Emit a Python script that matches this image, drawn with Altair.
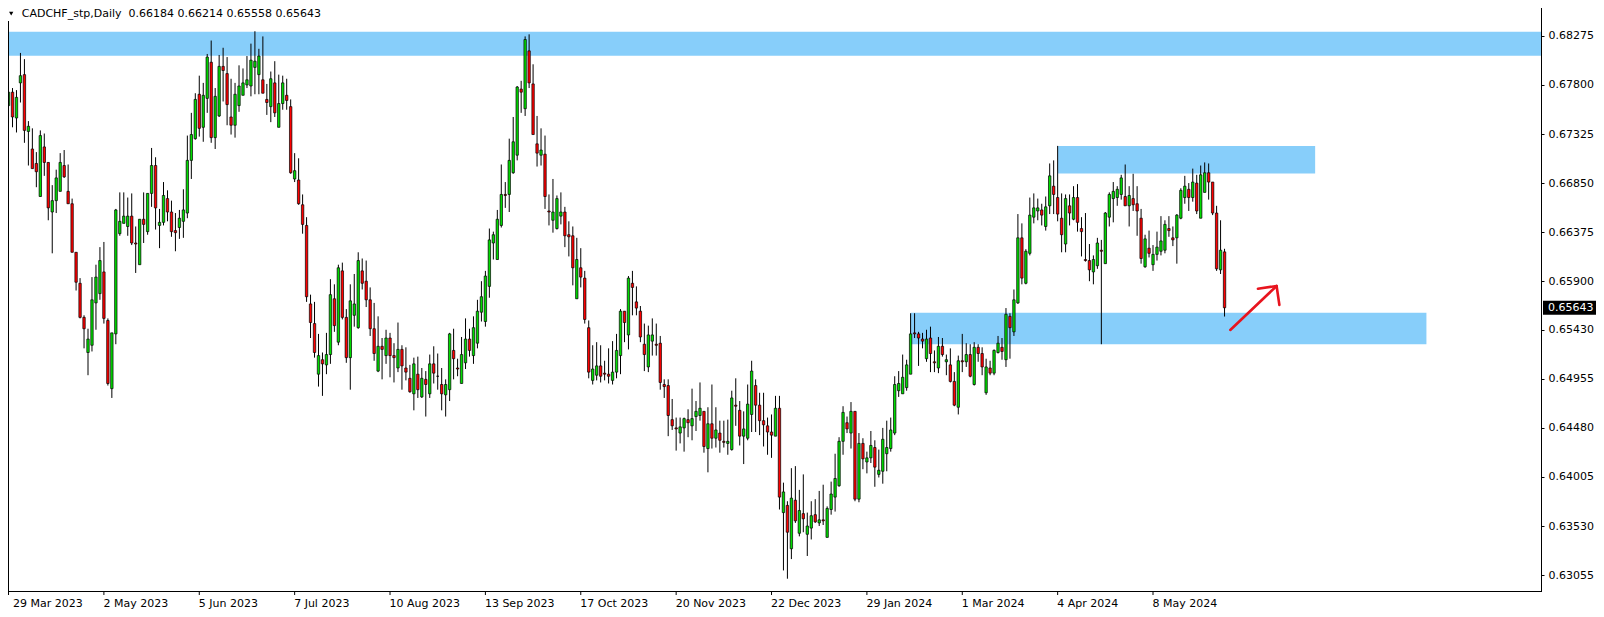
import altair as alt
import pandas as pd

# ---- daily OHLC, CADCHF, 29 Mar 2023 .. latest bar ----
OPEN = [
 0.6760,0.6773,0.6748,0.6782,0.6790,0.6735,0.6718,0.6704,0.6672,0.6720,
 0.6705,0.6657,0.6668,0.6677,0.6702,0.6677,0.6665,0.6618,0.6588,0.6555,
 0.6521,0.6528,0.6569,0.6578,0.6599,0.6552,0.6486,0.6539,0.6636,0.6646,
 0.6643,0.6653,0.6627,0.6606,0.6650,0.6638,0.6675,0.6702,0.6644,0.6647,
 0.6670,0.6657,0.6639,0.6642,0.6648,0.6656,0.6707,0.6728,0.6771,0.6739,
 0.6767,0.6802,0.6729,0.6750,0.6798,0.6791,0.6749,0.6741,0.6760,0.6770,
 0.6780,0.6779,0.6797,0.6790,0.6785,0.6766,0.6759,0.6782,0.6739,0.6762,
 0.6770,0.6759,0.6689,0.6688,0.6664,0.6644,0.6568,0.6549,0.6500,0.6514,
 0.6509,0.6519,0.6573,0.6531,0.6600,0.6555,0.6516,0.6557,0.6545,0.6600,
 0.6590,0.6572,0.6544,0.6503,0.6527,0.6518,0.6535,0.6518,0.6506,0.6524,
 0.6506,0.6496,0.6481,0.6500,0.6478,0.6495,0.6481,0.6510,0.6498,0.6490,
 0.6480,0.6485,0.6523,0.6506,0.6491,0.6511,0.6534,0.6518,0.6530,0.6560,
 0.6551,0.6585,0.6627,0.6611,0.6644,0.6674,0.6674,0.6695,0.6712,0.6776,
 0.6757,0.6813,0.6781,0.6723,0.6712,0.6713,0.6658,0.6649,0.6641,0.6653,
 0.6657,0.6635,0.6634,0.6573,0.6603,0.6593,0.6545,0.6494,0.6499,0.6508,
 0.6501,0.6500,0.6494,0.6502,0.6518,0.6561,0.6538,0.6588,0.6570,0.6561,
 0.6529,0.6507,0.6532,0.6529,0.6530,0.6490,0.6489,0.6456,0.6448,0.6443,
 0.6448,0.6456,0.6450,0.6459,0.6460,0.6464,0.6428,0.6452,0.6438,0.6443,
 0.6435,0.6433,0.6427,0.6470,0.6465,0.6440,0.6438,0.6461,0.6489,0.6470,
 0.6455,0.6450,0.6444,0.6440,0.6467,0.6366,0.6373,0.6331,0.6378,0.6346,
 0.6365,0.6345,0.6351,0.6364,0.6356,0.6359,0.6342,0.6369,0.6381,0.6392,
 0.6435,0.6453,0.6443,0.6464,0.6379,0.6433,0.6415,0.6419,0.6429,0.6403,
 0.6406,0.6423,0.6428,0.6443,0.6484,0.6481,0.6487,0.6500,0.6540,0.6539,
 0.6534,0.6515,0.6535,0.6512,0.6506,0.6527,0.6512,0.6509,0.6493,0.6468,
 0.6513,0.6512,0.6519,0.6490,0.6526,0.6520,0.6482,0.6506,0.6501,0.6521,
 0.6526,0.6514,0.6556,0.6541,0.6569,0.6632,0.6588,0.6617,0.6652,0.6658,
 0.6659,0.6643,0.6663,0.6682,0.6671,0.6651,0.6626,0.6663,0.6650,0.6671,
 0.6641,0.6611,0.6610,0.6599,0.6605,0.6620,0.6607,0.6652,0.6670,0.6671,
 0.6674,0.6672,0.6663,0.6670,0.6665,0.6651,0.6604,0.6622,0.6606,0.6616,
 0.6619,0.6620,0.6641,0.6632,0.6632,0.6651,0.6671,0.6679,0.6671,0.6685,
 0.6651,0.6676,0.6695,0.6686,0.6656,0.6601,0.66184]

HIGH = [
 0.6785,0.6777,0.6775,0.6811,0.6805,0.6745,0.6738,0.6715,0.6736,0.6733,
 0.6705,0.6683,0.6698,0.6714,0.6717,0.6703,0.6670,0.6618,0.6593,0.6557,
 0.6544,0.6594,0.6606,0.6623,0.6628,0.6554,0.6540,0.6660,0.6676,0.6676,
 0.6671,0.6675,0.6643,0.6650,0.6676,0.6675,0.6719,0.6710,0.6660,0.6686,
 0.6678,0.6668,0.6656,0.6659,0.6679,0.6731,0.6753,0.6772,0.6789,0.6782,
 0.6810,0.6823,0.6777,0.6809,0.6816,0.6807,0.6786,0.6782,0.6799,0.6796,
 0.6808,0.6820,0.6832,0.6815,0.6827,0.6781,0.6793,0.6803,0.6790,0.6789,
 0.6786,0.6766,0.6714,0.6709,0.6674,0.6652,0.6577,0.6570,0.6539,0.6521,
 0.6540,0.6592,0.6587,0.6606,0.6608,0.6563,0.6587,0.6597,0.6618,0.6612,
 0.6610,0.6584,0.6569,0.6556,0.6535,0.6543,0.6540,0.6530,0.6550,0.6528,
 0.6526,0.6509,0.6516,0.6517,0.6506,0.6503,0.6519,0.6527,0.6520,0.6506,
 0.6495,0.6540,0.6544,0.6515,0.6536,0.6554,0.6544,0.6556,0.6572,0.6590,
 0.6600,0.6641,0.6638,0.6659,0.6703,0.6686,0.6728,0.6749,0.6779,0.6784,
 0.6827,0.6829,0.6800,0.6750,0.6738,0.6731,0.6674,0.6689,0.6673,0.6676,
 0.6662,0.6648,0.6643,0.6632,0.6622,0.6600,0.6552,0.6528,0.6531,0.6528,
 0.6513,0.6525,0.6532,0.6539,0.6563,0.6561,0.6595,0.6600,0.6585,0.6566,
 0.6549,0.6547,0.6554,0.6549,0.6537,0.6495,0.6495,0.6476,0.6458,0.6458,
 0.6458,0.6466,0.6486,0.6474,0.6492,0.6464,0.6468,0.6490,0.6468,0.6455,
 0.6455,0.6456,0.6484,0.6496,0.6474,0.6464,0.6490,0.6513,0.6495,0.6482,
 0.6482,0.6458,0.6461,0.6479,0.6479,0.6395,0.6377,0.6409,0.6411,0.6388,
 0.6403,0.6366,0.6377,0.6379,0.6387,0.6393,0.6372,0.6396,0.6423,0.6439,
 0.6469,0.6459,0.6473,0.6464,0.6443,0.6438,0.6425,0.6445,0.6436,0.6427,
 0.6448,0.6455,0.6458,0.6498,0.6503,0.6519,0.6514,0.6559,0.6559,0.6541,
 0.6540,0.6543,0.6546,0.6523,0.6536,0.6535,0.6519,0.6525,0.6502,0.6518,
 0.6539,0.6530,0.6529,0.6531,0.6529,0.6526,0.6515,0.6513,0.6524,0.6537,
 0.6535,0.6564,0.6559,0.6582,0.6655,0.6646,0.6621,0.6671,0.6675,0.6670,
 0.6665,0.6672,0.6704,0.6707,0.6721,0.6675,0.6674,0.6674,0.6682,0.6684,
 0.6652,0.6656,0.6626,0.6615,0.6632,0.6630,0.6657,0.6676,0.6686,0.6682,
 0.6693,0.6703,0.6682,0.6694,0.6682,0.6660,0.6635,0.6639,0.6625,0.6638,
 0.6653,0.6649,0.6653,0.6643,0.6655,0.6680,0.6692,0.6685,0.6699,0.6693,
 0.6702,0.6705,0.6704,0.6686,0.6663,0.6649,0.66214]

LOW = [
 0.6743,0.6739,0.6734,0.6763,0.6724,0.6702,0.6699,0.6681,0.6672,0.6692,
 0.6649,0.6617,0.6656,0.6677,0.6690,0.6665,0.6618,0.6581,0.6554,0.6525,
 0.6499,0.6522,0.6543,0.6572,0.6549,0.6489,0.6477,0.6529,0.6634,0.6646,
 0.6634,0.6625,0.6598,0.6606,0.6627,0.6635,0.6662,0.6640,0.6622,0.6644,
 0.6648,0.6633,0.6619,0.6631,0.6632,0.6651,0.6689,0.6727,0.6730,0.6725,
 0.6753,0.6724,0.6718,0.6749,0.6764,0.6741,0.6732,0.6729,0.6754,0.6770,
 0.6777,0.6769,0.6771,0.6771,0.6772,0.6751,0.6744,0.6749,0.6739,0.6756,
 0.6756,0.6694,0.6686,0.6664,0.6636,0.6570,0.6535,0.6516,0.6488,0.6479,
 0.6500,0.6510,0.6541,0.6528,0.6553,0.6511,0.6485,0.6546,0.6544,0.6582,
 0.6565,0.6537,0.6513,0.6502,0.6495,0.6510,0.6497,0.6492,0.6502,0.6485,
 0.6494,0.6482,0.6465,0.6477,0.6477,0.6459,0.6477,0.6491,0.6485,0.6465,
 0.6459,0.6474,0.6495,0.6498,0.6491,0.6505,0.6517,0.6510,0.6525,0.6551,
 0.6546,0.6574,0.6611,0.6611,0.6642,0.6661,0.6657,0.6694,0.6707,0.6753,
 0.6750,0.6777,0.6732,0.6701,0.6702,0.6660,0.6644,0.6637,0.6640,0.6645,
 0.6623,0.6614,0.6586,0.6573,0.6584,0.6549,0.6496,0.6490,0.6494,0.6492,
 0.6494,0.6491,0.6490,0.6496,0.6500,0.6531,0.6524,0.6557,0.6557,0.6531,
 0.6503,0.6502,0.6518,0.6518,0.6485,0.6477,0.6440,0.6446,0.6426,0.6433,
 0.6425,0.6439,0.6436,0.6445,0.6455,0.6424,0.6405,0.6428,0.6429,0.6424,
 0.6429,0.6422,0.6426,0.6450,0.6431,0.6413,0.6436,0.6444,0.6444,0.6441,
 0.6430,0.6422,0.6419,0.6440,0.6369,0.6310,0.6302,0.6321,0.6356,0.6343,
 0.6347,0.6324,0.6340,0.6356,0.6353,0.6354,0.6342,0.6364,0.6367,0.6391,
 0.6422,0.6443,0.6428,0.6377,0.6376,0.6408,0.6404,0.6414,0.6391,0.6400,
 0.6394,0.6406,0.6425,0.6441,0.6478,0.6481,0.6484,0.6500,0.6535,0.6508,
 0.6525,0.6512,0.6502,0.6502,0.6501,0.6517,0.6499,0.6492,0.6469,0.6461,
 0.6502,0.6507,0.6497,0.6489,0.6512,0.6499,0.6480,0.6499,0.6499,0.6520,
 0.6514,0.6507,0.6515,0.6537,0.6568,0.6587,0.6587,0.6615,0.6646,0.6649,
 0.6644,0.6639,0.6655,0.6655,0.6648,0.6618,0.6618,0.6644,0.6649,0.6638,
 0.6614,0.6609,0.6590,0.6587,0.6602,0.6529,0.6607,0.6643,0.6647,0.6663,
 0.6669,0.6663,0.6643,0.6658,0.6634,0.6607,0.6603,0.6613,0.6600,0.6610,
 0.6615,0.6617,0.6633,0.6624,0.6607,0.6650,0.6665,0.6658,0.6667,0.6655,
 0.6651,0.6676,0.6669,0.6654,0.6600,0.6597,0.65558]

CLOSE = [
 0.6773,0.6749,0.6768,0.6789,0.6736,0.6740,0.6699,0.6696,0.6731,0.6705,
 0.6661,0.6668,0.6690,0.6705,0.6691,0.6665,0.6618,0.6589,0.6555,0.6544,
 0.6534,0.6572,0.6594,0.6610,0.6554,0.6491,0.6540,0.6659,0.6648,0.6653,
 0.6653,0.6627,0.6626,0.6650,0.6645,0.6675,0.6702,0.6661,0.6647,0.6673,
 0.6657,0.6638,0.6637,0.6651,0.6659,0.6707,0.6732,0.6766,0.6738,0.6770,
 0.6807,0.6729,0.6769,0.6798,0.6794,0.6761,0.6741,0.6771,0.6779,0.6782,
 0.6785,0.6804,0.6803,0.6808,0.6772,0.6763,0.6786,0.6753,0.6762,0.6782,
 0.6765,0.6695,0.6697,0.6665,0.6645,0.6575,0.6550,0.6521,0.6518,0.6510,
 0.6519,0.6577,0.6547,0.6603,0.6555,0.6516,0.6571,0.6568,0.6610,0.6588,
 0.6572,0.6544,0.6520,0.6527,0.6524,0.6535,0.6518,0.6516,0.6524,0.6508,
 0.6502,0.6483,0.6510,0.6485,0.6496,0.6490,0.6510,0.6501,0.6498,0.6481,
 0.6490,0.6539,0.6515,0.6505,0.6519,0.6534,0.6523,0.6545,0.6561,0.6575,
 0.6595,0.6630,0.6635,0.6650,0.6674,0.6673,0.6707,0.6725,0.6778,0.6773,
 0.6824,0.6782,0.6732,0.6714,0.6717,0.6672,0.6657,0.6657,0.6670,0.6657,
 0.6634,0.6633,0.6603,0.6611,0.6594,0.6553,0.6502,0.6505,0.6508,0.6498,
 0.6500,0.6498,0.6502,0.6523,0.6561,0.6550,0.6593,0.6584,0.6564,0.6536,
 0.6519,0.6538,0.6538,0.6528,0.6492,0.6488,0.6460,0.6450,0.6447,0.6449,
 0.6457,0.6453,0.6457,0.6464,0.6467,0.6430,0.6452,0.6438,0.6446,0.6436,
 0.6434,0.6435,0.6477,0.6469,0.6440,0.6447,0.6471,0.6503,0.6470,0.6455,
 0.6451,0.6444,0.6441,0.6467,0.6381,0.6386,0.6347,0.6380,0.6358,0.6368,
 0.6360,0.6353,0.6363,0.6357,0.6359,0.6358,0.6370,0.6384,0.6399,0.6435,
 0.6463,0.6447,0.6464,0.6379,0.6433,0.6418,0.6419,0.6431,0.6410,0.6407,
 0.6437,0.6429,0.6446,0.6490,0.6491,0.6497,0.6509,0.6539,0.6539,0.6535,
 0.6532,0.6534,0.6520,0.6511,0.6527,0.6519,0.6514,0.6493,0.6470,0.6513,
 0.6512,0.6519,0.6498,0.6526,0.6520,0.6507,0.6507,0.6501,0.6523,0.6530,
 0.6522,0.6558,0.6545,0.6572,0.6632,0.6593,0.6619,0.6654,0.6661,0.6661,
 0.6654,0.6662,0.6692,0.6674,0.6655,0.6635,0.6670,0.6656,0.6671,0.6647,
 0.6638,0.6610,0.6601,0.6611,0.6627,0.6619,0.6656,0.6674,0.6677,0.6679,
 0.6690,0.6663,0.6673,0.6664,0.6658,0.6612,0.6631,0.6617,0.6616,0.6623,
 0.6629,0.6645,0.6639,0.6630,0.6654,0.6678,0.6682,0.6671,0.6686,0.6658,
 0.6693,0.6695,0.6686,0.6656,0.6602,0.6620,0.65643]

assert len(OPEN) == len(HIGH) == len(LOW) == len(CLOSE), (len(OPEN), len(HIGH), len(LOW), len(CLOSE))

# ---- axis texts ----
X_LABELS = ["29 Mar 2023", "2 May 2023", "5 Jun 2023", "7 Jul 2023", "10 Aug 2023",
            "13 Sep 2023", "17 Oct 2023", "20 Nov 2023", "22 Dec 2023", "29 Jan 2024",
            "1 Mar 2024", "4 Apr 2024", "8 May 2024"]
X_LABEL_BARS = [0, 24, 48, 72, 96, 120, 144, 168, 192, 216, 240, 264, 288]
Y_TICKS = [0.63055, 0.63530, 0.64005, 0.64480, 0.64955, 0.65430,
           0.65900, 0.66375, 0.66850, 0.67325, 0.67800, 0.68275]
TITLE = "CADCHF_stp,Daily\u00a0 0.66184 0.66214 0.65558 0.65643"

# ---- drawn objects: zones (bar index / price) and the hand-drawn arrow ----
ZONE_X1 = [-5.0, 264.1, 227.05]
ZONE_X2 = [400.0, 328.8, 356.8]
ZONE_LOW = [0.68083, 0.66944, 0.65289]
ZONE_HIGH = [0.68315, 0.67209, 0.65595]

ARROW_SEG = [0, 0, 1, 1, 1]
ARROW_ORDER = [0, 1, 0, 1, 2]
ARROW_X = [307.45, 319.1, 314.4, 319.1, 319.8]
ARROW_Y = [0.65428, 0.65854, 0.65827, 0.65854, 0.65670]

# ---- layout ----
W, H = 1533, 583
X_DOMAIN = [1.125, 1.125 + W / 4.0]
Y_DOMAIN = [0.62901, 0.68545]
GREEN = "#00DC00"
RED = "#FF0000"
ZONE = "#87CEFA"
FONT = "DejaVu Sans"

xs = alt.Scale(domain=X_DOMAIN, nice=False, zero=False)
ys = alt.Scale(domain=Y_DOMAIN, nice=False, zero=False)

y_axis = alt.Axis(orient="right", values=Y_TICKS, format=".5f", title=None, grid=False,
                  domain=False, ticks=True, tickSize=3, tickColor="black", tickWidth=1,
                  labelPadding=4, labelFont=FONT, labelFontSize=11, labelColor="black",
                  labelAlign="left", labelBaseline="middle", labelOverlap=False,
                  labelFlush=False, labelBound=False)

n = len(OPEN)
df = pd.DataFrame({"bar": list(range(n)), "open": OPEN, "high": HIGH,
                   "low": LOW, "close": CLOSE})
df["dir"] = ["up" if c >= o else "down" for o, c in zip(OPEN, CLOSE)]

zones = pd.DataFrame({"x1": ZONE_X1, "x2": ZONE_X2, "lo": ZONE_LOW, "hi": ZONE_HIGH})
zone_layer = alt.Chart(zones).mark_rect(color=ZONE, clip=True).encode(
    x=alt.X("x1:Q", scale=xs, axis=None), x2="x2:Q",
    y=alt.Y("lo:Q", scale=ys, axis=y_axis), y2="hi:Q")

wicks = alt.Chart(df).mark_rule(color="black", strokeWidth=1, clip=True).encode(
    x=alt.X("bar:Q", scale=xs, axis=None),
    y=alt.Y("low:Q", scale=ys, axis=y_axis), y2="high:Q")

bodies = alt.Chart(df).mark_bar(size=2.4, stroke="black", strokeWidth=0.7, clip=True).encode(
    x=alt.X("bar:Q", scale=xs, axis=None),
    y=alt.Y("open:Q", scale=ys, axis=y_axis), y2="close:Q",
    color=alt.Color("dir:N", scale=alt.Scale(domain=["up", "down"], range=[GREEN, RED]),
                    legend=None))

arrow_df = pd.DataFrame({"seg": ARROW_SEG, "k": ARROW_ORDER, "x": ARROW_X, "y": ARROW_Y})
arrow = alt.Chart(arrow_df).mark_line(color="#E8141E", strokeWidth=2.6, strokeCap="round",
                                      strokeJoin="round").encode(
    x=alt.X("x:Q", scale=xs, axis=None),
    y=alt.Y("y:Q", scale=ys, axis=y_axis),
    detail="seg:N", order="k:Q")

# bottom time axis (labels start at their tick)
xl = pd.DataFrame({"bar": X_LABEL_BARS, "label": X_LABELS})
xl["pos"] = [max(b, X_DOMAIN[0] + 0.15) for b in X_LABEL_BARS]
x_text = alt.Chart(xl).mark_text(align="left", baseline="middle", font=FONT, fontSize=11,
                                 color="black", dx=-0.5).encode(
    x=alt.X("pos:Q", scale=xs, axis=None), y=alt.value(H + 12.6), text="label:N")
x_ticks = alt.Chart(xl).mark_rule(color="black", strokeWidth=1).encode(
    x=alt.X("bar:Q", scale=xs, axis=None), y=alt.value(H + 0.5), y2=alt.value(H + 4))

frame_df = pd.DataFrame({"k": [0]})
bottom_line = alt.Chart(frame_df).mark_rule(color="black", strokeWidth=1).encode(
    x=alt.value(0), x2=alt.value(W + 1), y=alt.value(H + 0.5))
right_line = alt.Chart(frame_df).mark_rule(color="black", strokeWidth=1).encode(
    x=alt.value(W + 0.5), y=alt.value(0), y2=alt.value(H + 1))
left_line = alt.Chart(frame_df).mark_rule(color="black", strokeWidth=1).encode(
    x=alt.value(0.5), y=alt.value(13), y2=alt.value(H + 1))

# current price tag on the right scale
last = pd.DataFrame({"p": [CLOSE[-1]], "lo": [CLOSE[-1] - 0.00068],
                     "hi": [CLOSE[-1] + 0.00068], "t": [f"{CLOSE[-1]:.5f}"]})
tag_box = alt.Chart(last).mark_rect(color="black").encode(
    x=alt.value(W + 2), x2=alt.value(W + 57),
    y=alt.Y("lo:Q", scale=ys, axis=y_axis), y2="hi:Q")
tag_text = alt.Chart(last).mark_text(align="left", baseline="middle", font=FONT,
                                     fontSize=11, color="white").encode(
    x=alt.value(W + 7), y=alt.Y("p:Q", scale=ys, axis=y_axis), text="t:N")

# chart title in the corner
title_df = pd.DataFrame({"t": [TITLE]})
title_text = alt.Chart(title_df).mark_text(align="left", baseline="alphabetic", font=FONT,
                                           fontSize=11, color="black").encode(
    x=alt.value(13.7), y=alt.value(9.4), text="t:N")
title_tri = alt.Chart(title_df).mark_point(shape="triangle-down", filled=True, color="black",
                                           size=18, opacity=1).encode(
    x=alt.value(3.2), y=alt.value(5.6))

chart = alt.layer(
    zone_layer, wicks, bodies, arrow, x_ticks, x_text, bottom_line, right_line, left_line,
    tag_box, tag_text, title_text, title_tri
).properties(
    width=W, height=H,
    autosize=alt.AutoSizeParams(type="none"),
    padding={"left": 0, "top": 0, "right": 55, "bottom": 18},
    background="white",
).configure_view(stroke=None)

chart.save("out.html", embed_options={"renderer": "svg", "actions": False})
